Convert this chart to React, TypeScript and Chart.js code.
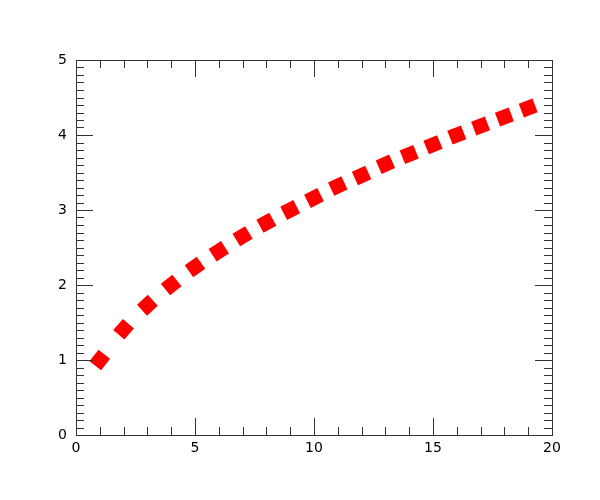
import React, { useEffect, useRef } from 'react';
import { Chart, registerables } from 'chart.js';
Chart.register(...registerables);

const xValues = [1, 2, 3, 4, 5, 6, 7, 8, 9, 10, 11, 12, 13, 14, 15, 16, 17, 18, 19];
const yValues = [1.0, 1.41, 1.73, 2.0, 2.24, 2.45, 2.65, 2.83, 3.0, 3.16, 3.32, 3.46, 3.61, 3.74, 3.87, 4.0, 4.12, 4.24, 4.36];
const xRange = [0, 20];
const yRange = [0, 5];
const xMajorStep = 5;
const xMinorStep = 1;
const yMajorStep = 1;
const yMinorStep = 0.1;

const tickPlugin = {
  id: 'inwardTicks',
  afterDraw(chart: any) {
    const { ctx, chartArea: a, scales } = chart;
    const xs = scales.x;
    const ys = scales.y;
    ctx.save();
    ctx.strokeStyle = '#333';
    ctx.lineWidth = 1;
    ctx.beginPath();
    const nx = Math.round((xRange[1] - xRange[0]) / xMinorStep);
    const perMajX = Math.round(xMajorStep / xMinorStep);
    for (let i = 0; i <= nx; i++) {
      const v = xRange[0] + i * xMinorStep;
      const px = Math.round(xs.getPixelForValue(v)) + 0.5;
      const len = i % perMajX === 0 ? 17 : 8;
      ctx.moveTo(px, a.bottom);
      ctx.lineTo(px, a.bottom - len);
      ctx.moveTo(px, a.top);
      ctx.lineTo(px, a.top + len);
    }
    const ny = Math.round((yRange[1] - yRange[0]) / yMinorStep);
    const perMajY = Math.round(yMajorStep / yMinorStep);
    for (let i = 0; i <= ny; i++) {
      const v = yRange[0] + i * yMinorStep;
      const py = Math.round(ys.getPixelForValue(v)) + 0.5;
      const len = i % perMajY === 0 ? 17 : 8;
      ctx.moveTo(a.left, py);
      ctx.lineTo(a.left + len, py);
      ctx.moveTo(a.right, py);
      ctx.lineTo(a.right - len, py);
    }
    ctx.stroke();
    ctx.strokeRect(
      Math.round(a.left) + 0.5,
      Math.round(a.top) + 0.5,
      Math.round(a.right) - Math.round(a.left),
      Math.round(a.bottom) - Math.round(a.top)
    );
    ctx.restore();
  },
};

export default function App() {
  const ref = useRef<HTMLCanvasElement | null>(null);
  useEffect(() => {
    if (!ref.current) return;
    const n = xValues.length;
    const chart = new Chart(ref.current, {
      type: 'scatter',
      data: {
        datasets: [
          {
            data: xValues.map((x, i) => ({ x, y: yValues[i] })),
            showLine: false,
            pointStyle: 'rect',
            pointRadius: 10.4,
            pointBorderWidth: 0,
            pointBackgroundColor: '#ff0000',
            pointBorderColor: '#ff0000',
            pointRotation: (c: any) => {
              const i = c.dataIndex;
              const ch = c.chart;
              const xs = ch.scales.x;
              const ys = ch.scales.y;
              if (!xs || !ys) return 0;
              const i0 = Math.max(0, i - 1);
              const i1 = Math.min(n - 1, i + 1);
              const dx = xs.getPixelForValue(xValues[i1]) - xs.getPixelForValue(xValues[i0]);
              const dy = ys.getPixelForValue(yValues[i1]) - ys.getPixelForValue(yValues[i0]);
              return (Math.atan2(dy, dx) * 180) / Math.PI;
            },
          } as any,
        ],
      },
      options: {
        responsive: false,
        animation: false,
        clip: false as any,
        layout: { padding: { top: 60, right: 48, bottom: 0, left: 0 } },
        plugins: { legend: { display: false }, tooltip: { enabled: false } },
        scales: {
          x: {
            type: 'linear',
            min: xRange[0],
            max: xRange[1],
            grid: { display: false, drawTicks: false },
            border: { display: false },
            ticks: {
              stepSize: xMajorStep,
              padding: 5,
              color: '#000',
              font: { family: 'DejaVu Sans', size: 14 },
            },
            afterFit: (s: any) => {
              s.height = 65;
            },
          },
          y: {
            type: 'linear',
            min: yRange[0],
            max: yRange[1],
            grid: { display: false, drawTicks: false },
            border: { display: false },
            ticks: {
              stepSize: yMajorStep,
              padding: 9,
              color: '#000',
              font: { family: 'DejaVu Sans', size: 14 },
            },
            afterFit: (s: any) => {
              s.width = 76;
            },
          },
        },
      },
      plugins: [tickPlugin],
    });
    return () => chart.destroy();
  }, []);
  return (
    <div style={{ position: 'fixed', left: 0, top: 0, width: 600, height: 500, background: '#fff' }}>
      <canvas ref={ref} width={600} height={500} />
    </div>
  );
}
